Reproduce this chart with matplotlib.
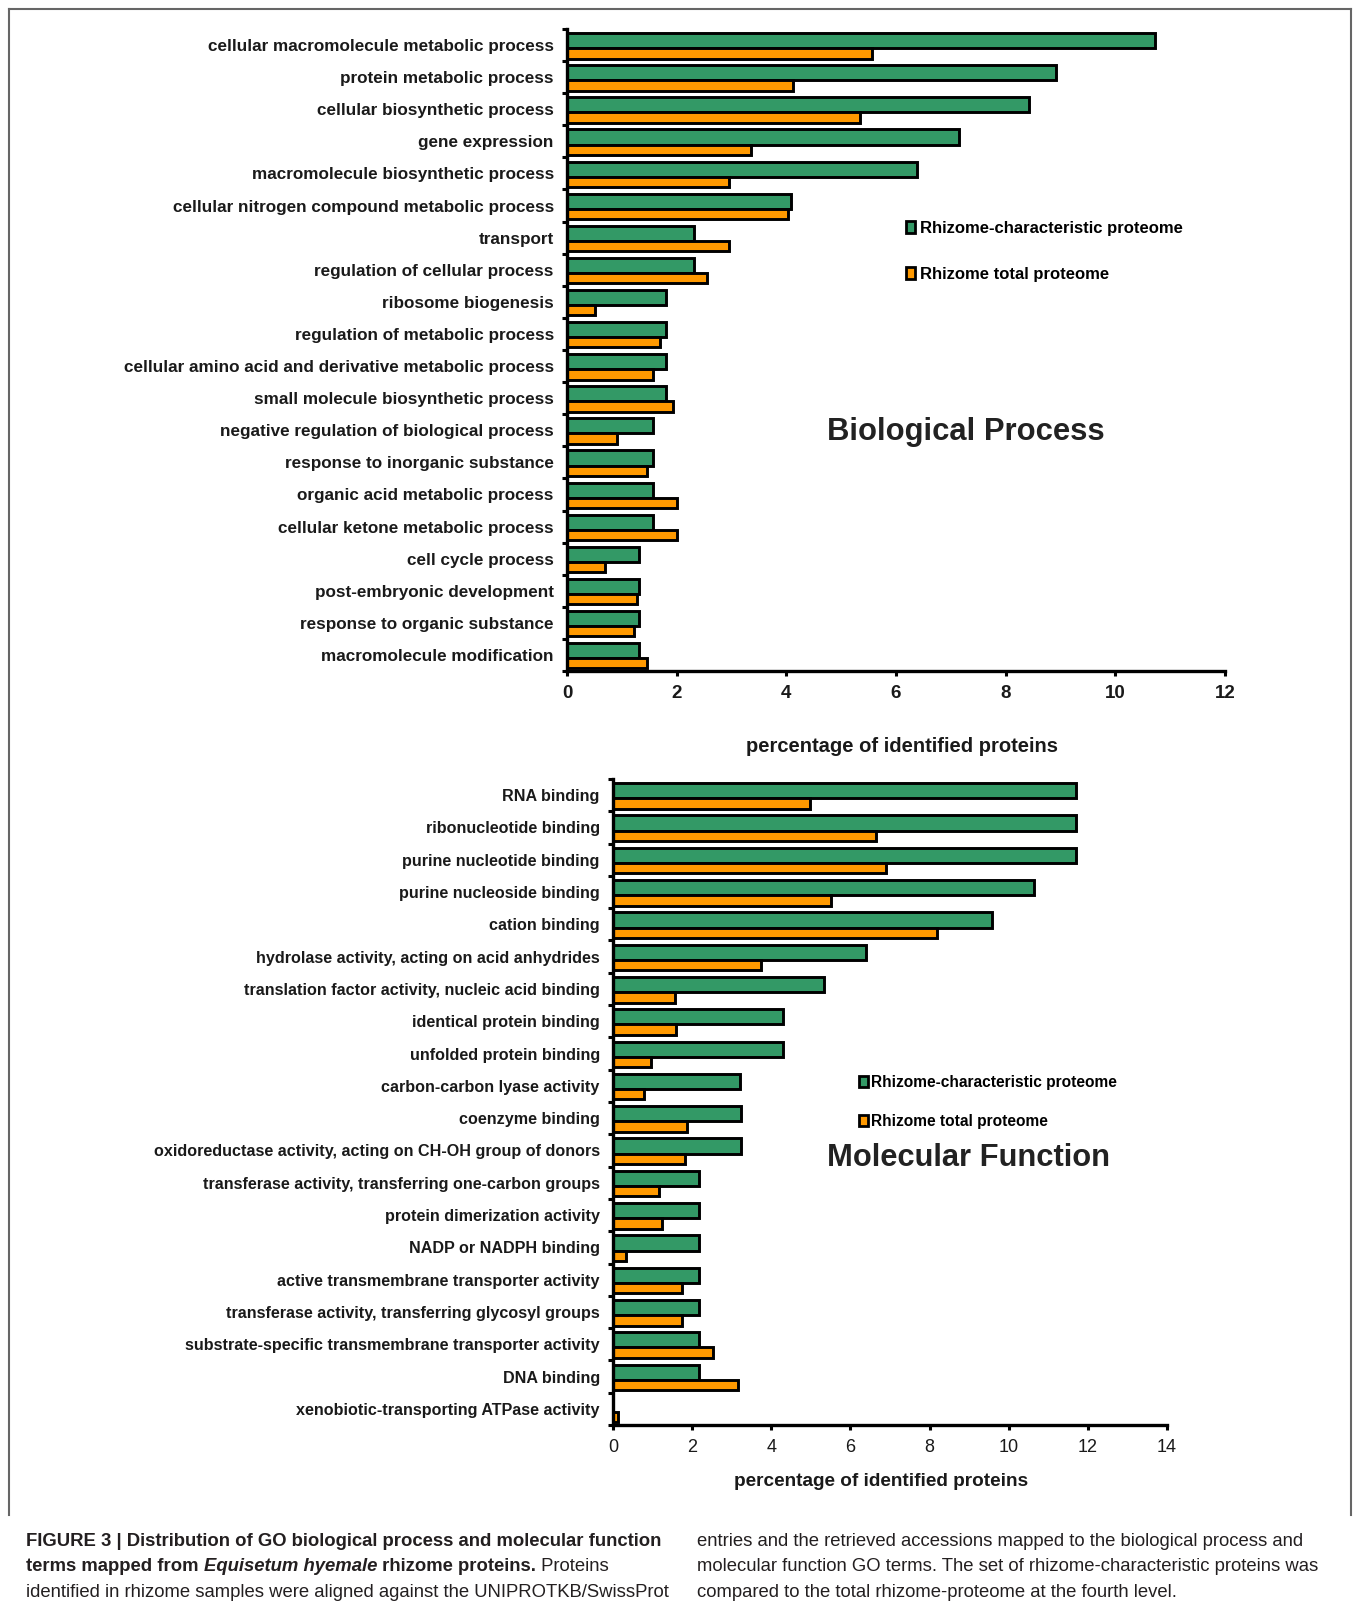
import matplotlib
matplotlib.use("Agg")
import matplotlib.pyplot as plt
import numpy as np
from matplotlib.lines import Line2D
from matplotlib.patches import Patch


BP_TERMS = [
    "cellular macromolecule metabolic process",
    "protein metabolic process",
    "cellular biosynthetic process",
    "gene expression",
    "macromolecule biosynthetic process",
    "cellular nitrogen compound metabolic process",
    "transport",
    "regulation of cellular process",
    "ribosome biogenesis",
    "regulation of metabolic process",
    "cellular amino acid and derivative metabolic process",
    "small molecule biosynthetic process",
    "negative regulation of biological process",
    "response to inorganic substance",
    "organic acid metabolic process",
    "cellular ketone metabolic process",
    "cell cycle process",
    "post-embryonic development",
    "response to organic substance",
    "macromolecule modification",
]
BP_CHARACTERISTIC = [10.72, 8.92, 8.43, 7.15, 6.39, 4.09, 2.31, 2.31, 1.80, 1.80,
                     1.80, 1.80, 1.56, 1.56, 1.56, 1.56, 1.31, 1.31, 1.31, 1.31]
BP_TOTAL = [5.56, 4.12, 5.35, 3.35, 2.96, 4.03, 2.96, 2.56, 0.51, 1.70,
            1.56, 1.93, 0.91, 1.46, 2.00, 2.00, 0.69, 1.27, 1.23, 1.46]

MF_TERMS = [
    "RNA binding",
    "ribonucleotide binding",
    "purine nucleotide binding",
    "purine nucleoside binding",
    "cation binding",
    "hydrolase activity, acting on acid anhydrides",
    "translation factor activity, nucleic acid binding",
    "identical protein binding",
    "unfolded protein binding",
    "carbon-carbon lyase activity",
    "coenzyme binding",
    "oxidoreductase activity, acting on CH-OH group of donors",
    "transferase activity, transferring one-carbon groups",
    "protein dimerization activity",
    "NADP or NADPH binding",
    "active transmembrane transporter activity",
    "transferase activity, transferring glycosyl groups",
    "substrate-specific transmembrane transporter activity",
    "DNA binding",
    "xenobiotic-transporting ATPase activity",
]
MF_CHARACTERISTIC = [11.69, 11.69, 11.69, 10.63, 9.57, 6.39, 5.34, 4.29, 4.29, 3.22,
                     3.23, 3.23, 2.17, 2.17, 2.17, 2.17, 2.17, 2.17, 2.17, 0.0]
MF_TOTAL = [4.98, 6.65, 6.90, 5.51, 8.19, 3.74, 1.56, 1.59, 0.95, 0.79,
            1.87, 1.81, 1.17, 1.24, 0.33, 1.74, 1.74, 2.53, 3.16, 0.13]

SERIES = ["Rhizome-characteristic proteome", "Rhizome total proteome"]
XLABEL = "percentage of identified proteins"

GREEN = "#339966"
ORANGE = "#FF9900"
TEXT = "#1a1a1a"

plt.rcParams["font.family"] = ["Liberation Sans", "DejaVu Sans"]

W, H = 1354, 1607


def fx(px):
    return px / W


def fy(py):
    return 1 - py / H


def draw_panel(ax, terms, green_vals, orange_vals, xmax, label_size, tick_size, tick_weight):
    pos = np.arange(len(terms))
    ax.barh(pos - 0.135, green_vals, height=0.47, color=GREEN,
            edgecolor="black", linewidth=2.1, zorder=3)
    ax.barh(pos + 0.26, orange_vals, height=0.32, color=ORANGE,
            edgecolor="black", linewidth=2.1, zorder=3)
    ax.set_xlim(0, xmax)
    ax.set_ylim(len(terms) - 0.5, -0.5)
    ax.set_yticks(pos)
    ax.set_yticklabels(terms, fontsize=label_size, fontweight="bold", color=TEXT)
    ax.tick_params(axis="y", which="major", length=0, pad=9.5)
    ax.set_yticks(np.arange(len(terms) + 1) - 0.5, minor=True)
    ax.tick_params(axis="y", which="minor", length=3.6, width=2.2, direction="out")
    ax.set_xticks(np.arange(0, xmax + 1, 2))
    ax.tick_params(axis="x", length=3.6, width=2.2, direction="out", pad=6.5,
                   labelsize=tick_size, labelcolor=TEXT)
    for lab in ax.get_xticklabels():
        lab.set_fontweight(tick_weight)
    for side in ["top", "right"]:
        ax.spines[side].set_visible(False)
    for side in ["left", "bottom"]:
        ax.spines[side].set_linewidth(2.4)
        ax.spines[side].set_zorder(4)


fig = plt.figure(figsize=(W / 100, H / 100), dpi=100)

# Biological process panel
ax1 = fig.add_axes([fx(567), fy(671), fx(1225 - 567), (671 - 29) / H])
draw_panel(ax1, BP_TERMS, BP_CHARACTERISTIC, BP_TOTAL, 12, 12.3, 13.5, "bold")
fig.text(fx(902), fy(747), XLABEL, ha="center", va="center",
         fontsize=14.5, fontweight="bold", color=TEXT)
fig.text(fx(966), fy(432), "Biological Process", ha="center", va="center",
         fontsize=22.3, fontweight="bold", color="#222222")

handles = [Patch(facecolor=GREEN, edgecolor="black", linewidth=2.0),
           Patch(facecolor=ORANGE, edgecolor="black", linewidth=2.0)]
fig.legend(handles, SERIES, loc="upper left", bbox_to_anchor=(fx(906), fy(221)),
           frameon=False, handlelength=0.55, handleheight=0.75, handletextpad=0.3,
           labelspacing=1.85, borderaxespad=0, borderpad=0,
           prop={"weight": "bold", "size": 12})

# Molecular function panel
ax2 = fig.add_axes([fx(613), fy(1425), fx(1167 - 613), (1425 - 779) / H])
draw_panel(ax2, MF_TERMS, MF_CHARACTERISTIC, MF_TOTAL, 14, 11.6, 13, "normal")
fig.text(fx(881), fy(1482), XLABEL, ha="center", va="center",
         fontsize=13.7, fontweight="bold", color=TEXT)
fig.text(fx(968), fy(1158), "Molecular Function", ha="center", va="center",
         fontsize=22.2, fontweight="bold", color="#222222")
fig.legend(handles, SERIES, loc="upper left", bbox_to_anchor=(fx(859), fy(1075)),
           frameon=False, handlelength=0.55, handleheight=0.75, handletextpad=0.25,
           labelspacing=1.55, borderaxespad=0, borderpad=0,
           prop={"weight": "bold", "size": 11.2})

# frame around the figure
frame_kw = dict(color="#666666", linewidth=1.5, transform=fig.transFigure)
fig.add_artist(Line2D([fx(9), fx(9)], [fy(1515), fy(9)], **frame_kw))
fig.add_artist(Line2D([fx(9), fx(1351)], [fy(9), fy(9)], **frame_kw))
fig.add_artist(Line2D([fx(1351), fx(1351)], [fy(9), fy(1515)], **frame_kw))

# caption, drawn piece by piece so the styles can change inside a line
CAPTION_LEFT = [
    [("FIGURE 3 | Distribution of GO biological process and molecular function", "bold", "normal")],
    [("terms mapped from ", "bold", "normal"), ("Equisetum hyemale", "bold", "italic"),
     (" rhizome proteins.", "bold", "normal"), (" Proteins", "normal", "normal")],
    [("identified in rhizome samples were aligned against the UNIPROTKB/SwissProt", "normal", "normal")],
]
CAPTION_RIGHT = [
    [("entries and the retrieved accessions mapped to the biological process and", "normal", "normal")],
    [("molecular function GO terms. The set of rhizome-characteristic proteins was", "normal", "normal")],
    [("compared to the total rhizome-proteome at the fourth level.", "normal", "normal")],
]

renderer = fig.canvas.get_renderer()


def rich_line(x_px, y_px, pieces, size):
    x = x_px
    for text, weight, style in pieces:
        t = fig.text(fx(x), fy(y_px), text, ha="left", va="center", fontsize=size,
                     fontweight=weight, fontstyle=style, color="#231f20")
        x += t.get_window_extent(renderer=renderer).width


for i, line in enumerate(CAPTION_LEFT):
    rich_line(26, 1541 + i * 25.7, line, 13.3)
for i, line in enumerate(CAPTION_RIGHT):
    rich_line(697, 1541 + i * 25.7, line, 13.3)

fig.savefig("out.png", dpi=100)
